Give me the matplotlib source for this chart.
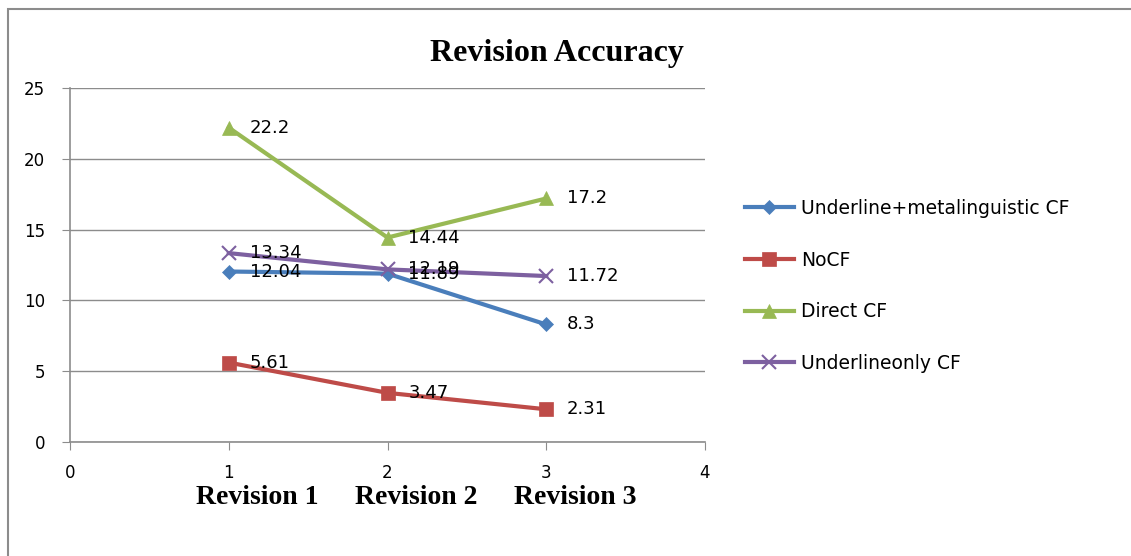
import matplotlib.pyplot as plt
from matplotlib.patches import Rectangle

# data
revisions = [1, 2, 3]
rev_labels = ['Revision 1', 'Revision 2', 'Revision 3']
series_names = ['Underline+metalinguistic CF', 'NoCF', 'Direct CF', 'Underlineonly CF']
underline_meta = [12.04, 11.89, 8.3]
no_cf = [5.61, 3.47, 2.31]
direct_cf = [22.2, 14.44, 17.2]
underline_only = [13.34, 12.19, 11.72]

values = [underline_meta, no_cf, direct_cf, underline_only]
colors = ['#4A7EBB', '#BE4B48', '#98B954', '#7D60A0']
markers = ['D', 's', '^', 'x']
msizes = [7, 10, 10, 10]

fig = plt.figure(figsize=(11.31, 5.56), dpi=100)
fig.patches.append(Rectangle((8 / 1131, -0.05), 1.1, 1 - 9 / 556 + 0.05,
                             transform=fig.transFigure, fill=False,
                             edgecolor='#8c8c8c', linewidth=1.5))

ax = fig.add_axes([70 / 1131, 1 - 442 / 556, 635 / 1131, 354 / 556])
ax.set_xlim(0, 4)
ax.set_ylim(0, 25)
ax.set_xticks(range(5))
ax.set_yticks(range(0, 26, 5))
ax.grid(axis='y', color='#8c8c8c', linewidth=1)
ax.set_axisbelow(True)
for s in ['top', 'right']:
    ax.spines[s].set_visible(False)
for s in ['left', 'bottom']:
    ax.spines[s].set_color('#8c8c8c')
    ax.spines[s].set_linewidth(1.2)
ax.tick_params(axis='y', length=6, color='#8c8c8c', labelsize=12, pad=12)
ax.tick_params(axis='x', length=6, color='#8c8c8c', labelsize=12, pad=10)

for name, vals, c, m, ms in zip(series_names, values, colors, markers, msizes):
    ax.plot(revisions, vals, color=c, linewidth=3, marker=m, markersize=ms,
            markeredgewidth=1.5 if m == 'x' else 0.5, markeredgecolor=c,
            label=name)
    for x, v in zip(revisions, vals):
        ax.annotate(f'{v:g}', (x, v), xytext=(15, 0), textcoords='offset points',
                    va='center', ha='left', fontsize=13, color='black')

for x, t in zip(revisions, rev_labels):
    ax.text(x + 0.18, -0.158, t, transform=ax.get_xaxis_transform(),
            ha='center', va='center', fontsize=20, fontweight='bold',
            family='Liberation Serif')

fig.text(557 / 1131, 1 - 53 / 556, 'Revision Accuracy', ha='center', va='center',
         fontsize=23, fontweight='bold', family='Liberation Serif')

fig.legend(loc='upper left', bbox_to_anchor=(728 / 1131, 1 - 182 / 556),
           frameon=False, fontsize=13.5, handlelength=2.6, handletextpad=0.4,
           labelspacing=1.74)

fig.savefig('out.png', dpi=100)
